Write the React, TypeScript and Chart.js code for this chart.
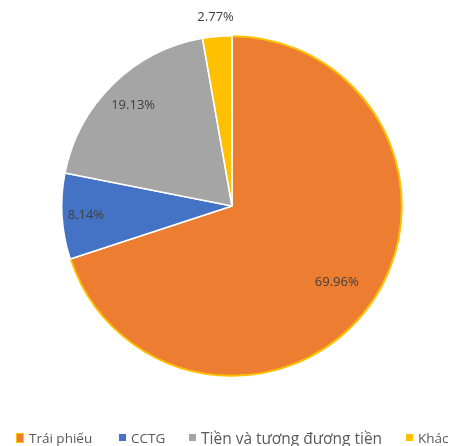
import React, { useEffect, useRef } from "react";
import { Chart, registerables } from "chart.js";

Chart.register(...registerables);

const categories = ["Trái phiếu", "CCTG", "Tiền và tương đương tiền", "Khác"];
const values = [69.96, 8.14, 19.13, 2.77];
const valueLabels = ["69.96%", "8.14%", "19.13%", "2.77%"];
const colors = ["#ED7D31", "#4472C4", "#A5A5A5", "#FFC000"];
const labelRadius = [0.76, 0.86, 0.83, 1.11];

const labelPlugin = {
  id: "sliceLabels",
  afterDatasetsDraw(chart: any) {
    const ctx = chart.ctx;
    const meta = chart.getDatasetMeta(0);
    const a0 = meta.data[0];
    if (a0) {
      ctx.save();
      ctx.beginPath();
      ctx.arc(a0.x, a0.y, a0.outerRadius - 0.5, a0.startAngle + 0.004, a0.endAngle - 0.004);
      ctx.strokeStyle = "#FFC000";
      ctx.lineWidth = 2;
      ctx.stroke();
      ctx.restore();
    }
    ctx.save();
    ctx.font = "13px 'Open Sans', sans-serif";
    ctx.fillStyle = "#404040";
    ctx.textAlign = "center";
    ctx.textBaseline = "middle";
    meta.data.forEach((arc: any, i: number) => {
      const mid = (arc.startAngle + arc.endAngle) / 2;
      const r = arc.outerRadius * labelRadius[i];
      ctx.fillText(valueLabels[i], arc.x + Math.cos(mid) * r, arc.y + Math.sin(mid) * r);
    });
    ctx.restore();
  },
};

export default function App() {
  const ref = useRef<HTMLCanvasElement>(null);
  useEffect(() => {
    const chart = new Chart(ref.current!, {
      type: "pie",
      data: {
        labels: categories,
        datasets: [
          {
            data: values,
            backgroundColor: colors,
            borderColor: "#FFFFFF",
            borderWidth: 1.5,
          },
        ],
      },
      options: {
        animation: false,
        responsive: false,
        layout: { padding: { top: 35, bottom: 69, left: 5, right: 0 } },
        plugins: { legend: { display: false }, tooltip: { enabled: false } },
      },
      plugins: [labelPlugin],
    });
    return () => chart.destroy();
  }, []);

  const box = (c: string, border?: string) => ({
    display: "inline-block",
    width: 7,
    height: 7,
    background: c,
    boxSizing: "border-box" as const,
    border: border ? `1px solid ${border}` : "none",
    marginRight: 5,
    verticalAlign: "middle",
  });
  const txt = (size: number) => ({
    fontSize: size,
    color: "#595959",
    verticalAlign: "middle",
  });

  return (
    <div style={{ position: "absolute", left: 0, top: 0, width: 459, height: 446, background: "#fff" }}>
      <canvas ref={ref} width={459} height={446} style={{ position: "absolute", left: 0, top: 0 }} />
      <div
        style={{
          position: "absolute",
          left: 0,
          top: 426,
          width: 459,
          height: 20,
          fontFamily: "'Open Sans', sans-serif",
          whiteSpace: "nowrap",
          lineHeight: "20px",
        }}
      >
        <span style={{ position: "absolute", left: 16 }}>
          <span style={{ ...box("#ED7D31", "#FFC000"), width: 8, height: 10 }} />
          <span style={txt(13.5)}>{categories[0]}</span>
        </span>
        <span style={{ position: "absolute", left: 119 }}>
          <span style={box(colors[1])} />
          <span style={txt(13.5)}>{categories[1]}</span>
        </span>
        <span style={{ position: "absolute", left: 189 }}>
          <span style={box(colors[2])} />
          <span style={txt(15.5)}>{categories[2]}</span>
        </span>
        <span style={{ position: "absolute", left: 406 }}>
          <span style={box(colors[3])} />
          <span style={txt(13.5)}>{categories[3]}</span>
        </span>
      </div>
    </div>
  );
}
